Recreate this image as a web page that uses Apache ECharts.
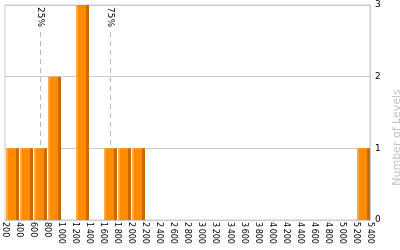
<!DOCTYPE html>
<html>
<head>
<meta charset="utf-8">
<script src="https://cdn.jsdelivr.net/npm/echarts@6/dist/echarts.min.js"></script>
<style>html,body{margin:0;padding:0;background:#fff}#c{width:400px;height:250px}</style>
</head>
<body>
<div id="c"></div>
<script>
// Histogram bins: [start, end]
var binStarts = [200, 400, 600, 800, 1000, 1200, 1400, 1600, 1800, 2000, 5200];
var binEnds   = [400, 600, 800, 1000, 1200, 1400, 1600, 1800, 2000, 2200, 5400];
var counts    = [1, 1, 1, 2, 0, 3, 0, 1, 1, 1, 1];
var percentiles = [
  { name: '25%', value: 700 },
  { name: '75%', value: 1700 }
];
var yTicks = [0, 1, 2, 3];

var data = binStarts.map(function (s, i) { return [s, binEnds[i], counts[i]]; });

var chart = echarts.init(document.getElementById('c'), null, { renderer: 'canvas' });
var font = 'DejaVu Sans';
var barFill = new echarts.graphic.LinearGradient(0, 0, 1, 0, [
  { offset: 0, color: '#FFAA44' },
  { offset: 0.16, color: '#FFAA44' },
  { offset: 0.16, color: '#FF8C00' },
  { offset: 0.77, color: '#FF8C00' },
  { offset: 0.77, color: '#C86A00' },
  { offset: 1, color: '#C86A00' }
]);

chart.setOption({
  animation: false,
  grid: { left: 5, right: 30, top: 5, bottom: 30, containLabel: false, outerBoundsMode: 'none',
          show: true, borderColor: '#cccccc', borderWidth: 1 },
  xAxis: {
    type: 'value', min: 200, max: 5400, interval: 200,
    name: 'Rank', nameLocation: 'middle', nameGap: 12,
    nameTextStyle: { color: '#c4c4c4', fontFamily: font, fontSize: 11 },
    axisLine: { show: true, lineStyle: { color: '#cccccc' } },
    axisTick: { show: false },
    splitLine: { show: false },
    axisLabel: {
      rotate: -90, margin: 2, color: '#000', fontFamily: font, fontSize: 8,
      hideOverlap: false,
      formatter: function (v) {
        var s = String(v);
        if (v >= 1000) s = s.slice(0, s.length - 3) + '\u2009' + s.slice(s.length - 3);
        return s;
      }
    }
  },
  yAxis: {
    type: 'value', position: 'right', min: yTicks[0], max: yTicks[yTicks.length - 1], interval: 1,
    name: 'Number of Levels', nameLocation: 'middle', nameGap: 17,
    nameTextStyle: { color: '#c4c4c4', fontFamily: font, fontSize: 11, padding: [0, 50, 0, 0] },
    axisLine: { show: true, lineStyle: { color: '#cccccc' } },
    axisTick: { show: false },
    splitLine: { show: true, lineStyle: { color: '#cccccc' } },
    axisLabel: { margin: 5, color: '#000', fontFamily: font, fontSize: 9 }
  },
  series: [
    {
      type: 'scatter',
      z: 1,
      data: [],
      markLine: {
        silent: true,
        z: 1,
        symbol: ['none', 'none'],
        lineStyle: { color: '#bbbbbb', type: [5, 4], width: 1 },
        label: {
          show: true, position: 'insideStart', distance: 1,
          color: '#000', fontFamily: font, fontSize: 9,
          backgroundColor: '#fff', padding: [1, 1],
          formatter: function (p) { return p.name; }
        },
        data: percentiles.map(function (q) {
          return [{ name: q.name, coord: [q.value, yTicks[yTicks.length - 1]] }, { coord: [q.value, 0] }];
        })
      }
    },
    {
      type: 'custom',
      z: 3,
      data: data,
      encode: { x: [0, 1], y: 2 },
      renderItem: function (params, api) {
        var p0 = api.coord([api.value(0), api.value(2)]);
        var p1 = api.coord([api.value(1), 0]);
        var x0 = Math.round(p0[0]) + 1, x1 = Math.round(p1[0]);
        return {
          type: 'rect',
          shape: { x: x0, y: p0[1], width: x1 - x0, height: p1[1] - p0[1] },
          style: { fill: barFill }
        };
      }
    }
  ]
});
</script>
</body>
</html>
